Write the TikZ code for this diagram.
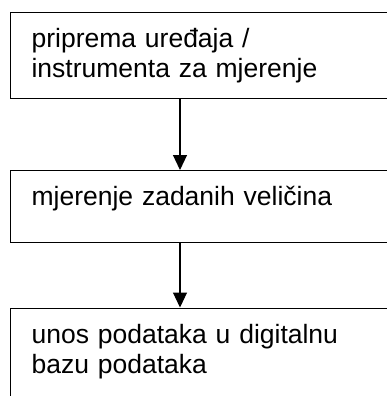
\documentclass[tikz,border=0pt]{standalone}
\usepackage{fontspec}
\setmainfont{Liberation Sans}
\usetikzlibrary{arrows.meta}
\tikzset{
	korak/.style={draw, line width=1.2pt, anchor=north west, inner xsep=21pt, inner ysep=0pt,
		text width=420pt, align=left, text height=35pt, font=\fontsize{26.5}{30}\selectfont},
	strelica/.style={line width=1.2pt, -{Triangle[length=15pt,width=14pt]}}
}
\begin{document}
\begin{tikzpicture}[x=1pt,y=-1pt]
		\useasboundingbox (0,0) rectangle (387,396);
		\clip (0,0) rectangle (387,396);
		\coordinate (os) at (180,0);
		\node[korak, text depth=51pt] at (10,12) (a) {priprema uređaja /\\instrumenta za mjerenje};
		\node[korak, text depth=37pt] at (10,170) (b) {mjerenje zadanih veličina};
		\node[korak, text depth=100pt] at (10,307.5) (c) {unos podataka u digitalnu\\bazu podataka};
		\draw[strelica] (a.south -| os) -- (b.north -| os);
		\draw[strelica] (b.south -| os) -- (c.north -| os);
	\end{tikzpicture}
\end{document}
